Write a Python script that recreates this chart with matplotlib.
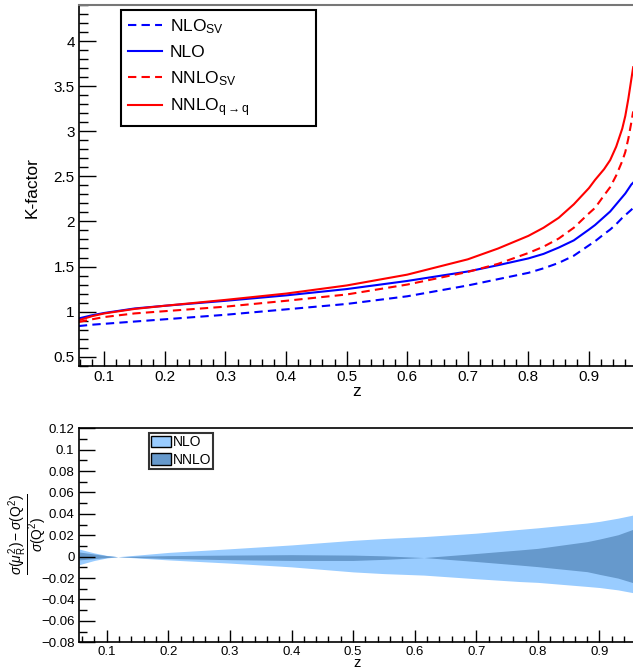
import matplotlib
matplotlib.use("Agg")
import matplotlib.pyplot as plt
from matplotlib.ticker import MultipleLocator, FuncFormatter
from matplotlib.patches import Patch

plt.rcParams['font.family'] = ['Liberation Sans', 'DejaVu Sans']
plt.rcParams['mathtext.fontset'] = 'custom'
plt.rcParams['mathtext.rm'] = 'Liberation Sans'
plt.rcParams['mathtext.it'] = 'Liberation Sans:italic'
plt.rcParams['mathtext.sf'] = 'Liberation Sans'

# ---------------- data: top panel (K-factors) ----------------
z_k = [0.058, 0.08, 0.1, 0.15, 0.2, 0.3, 0.4, 0.5, 0.6, 0.7, 0.75, 0.8, 0.825,
       0.85, 0.875, 0.9, 0.91, 0.925, 0.935, 0.945, 0.955, 0.96, 0.965, 0.97, 0.973]
k_nlo_sv = [0.84, 0.855, 0.865, 0.89, 0.915, 0.965, 1.025, 1.085, 1.17, 1.29, 1.36,
            1.43, 1.48, 1.54, 1.62, 1.735, 1.78, 1.86, 1.91, 1.97, 2.04, 2.07,
            2.10, 2.13, 2.15]
k_nlo = [0.925, 0.96, 0.985, 1.035, 1.065, 1.12, 1.18, 1.25, 1.34, 1.445, 1.515,
         1.59, 1.64, 1.71, 1.79, 1.91, 1.96, 2.05, 2.11, 2.19, 2.27, 2.31, 2.36,
         2.41, 2.43]
k_nnlo_sv = [0.885, 0.915, 0.94, 0.98, 1.005, 1.055, 1.12, 1.19, 1.30, 1.44, 1.53,
             1.65, 1.72, 1.81, 1.93, 2.09, 2.15, 2.29, 2.38, 2.51, 2.67, 2.77,
             2.92, 3.10, 3.22]
k_nnlo = [0.905, 0.95, 0.98, 1.03, 1.065, 1.13, 1.20, 1.29, 1.41, 1.58, 1.70,
          1.84, 1.93, 2.04, 2.19, 2.37, 2.46, 2.58, 2.68, 2.83, 3.03, 3.17, 3.36,
          3.58, 3.71]

# ---------------- data: bottom panel (scale variation) ----------------
z_band = [0.055, 0.08, 0.1, 0.118, 0.15, 0.2, 0.3, 0.4, 0.5, 0.55, 0.615, 0.7,
          0.77, 0.8, 0.88, 0.9, 0.93, 0.955]
nlo_up = [0.0072, 0.0035, 0.0012, 0.0, 0.0015, 0.004, 0.0074, 0.011, 0.0153,
          0.017, 0.0188, 0.022, 0.0255, 0.027, 0.0315, 0.033, 0.036, 0.039]
nlo_lo = [-0.0075, -0.0035, -0.0012, 0.0, -0.0012, -0.003, -0.006, -0.0095,
          -0.0142, -0.0158, -0.0172, -0.0206, -0.0232, -0.024, -0.0278, -0.0288,
          -0.031, -0.0337]
nnlo_up = [0.0044, 0.0025, 0.001, 0.0, 0.0005, 0.001, 0.0015, 0.0019, 0.0015,
           0.0008, -0.0008, 0.003, 0.0063, 0.0078, 0.0141, 0.0165, 0.0205, 0.0257]
nnlo_lo = [-0.003, -0.0018, -0.0008, 0.0, -0.0008, -0.0017, -0.0028, -0.0035,
           -0.0035, -0.0025, -0.0008, -0.0045, -0.0078, -0.0093, -0.014, -0.0165,
           -0.020, -0.0244]

W, H = 633, 669
fig = plt.figure(figsize=(W / 100, H / 100), dpi=100)

def ax_rect(x0, y0, x1, y1):
    return [x0 / W, 1 - y1 / H, (x1 - x0) / W, (y1 - y0) / H]

fmt_g = FuncFormatter(lambda v, p: ('0' if abs(v) < 1e-9 else ('%g' % round(v, 6)).replace('-', '\u2212')))

# ---------------- top panel ----------------
ax1 = fig.add_axes(ax_rect(79, 5, 633, 366))
ax1.plot(z_k, k_nlo_sv, color='#0000ff', lw=1.5, dashes=(4, 2.5), label=r'NLO$_{\mathrm{SV}}$')
ax1.plot(z_k, k_nlo, color='#0000ff', lw=1.5, label='NLO')
ax1.plot(z_k, k_nnlo_sv, color='#ff0000', lw=1.5, dashes=(4, 2.5), label=r'NNLO$_{\mathrm{SV}}$')
ax1.plot(z_k, k_nnlo, color='#ff0000', lw=1.5, label=r'NNLO$_{\mathrm{q}\rightarrow\mathrm{q}}$')
ax1.set_xlim(0.0582, 0.9727)
ax1.set_ylim(0.397, 4.40)
ax1.xaxis.set_major_locator(MultipleLocator(0.1))
ax1.xaxis.set_minor_locator(MultipleLocator(0.02))
ax1.yaxis.set_major_locator(MultipleLocator(0.5))
ax1.yaxis.set_minor_locator(MultipleLocator(0.1))
ax1.xaxis.set_major_formatter(fmt_g)
ax1.yaxis.set_major_formatter(fmt_g)
ax1.tick_params(axis='x', which='major', direction='in', length=10.8, width=1.0, labelsize=11, pad=3)
ax1.tick_params(axis='x', which='minor', direction='in', length=5, width=1.0)
ax1.tick_params(axis='y', which='major', direction='in', length=12.2, width=1.0, labelsize=11, pad=3)
ax1.tick_params(axis='y', which='minor', direction='in', length=6.5, width=1.0)
ax1.tick_params(top=False, right=False, which='both')
ax1.spines['right'].set_visible(False)
ax1.spines['top'].set_color('#777777')
ax1.spines['top'].set_linewidth(1.5)
ax1.spines['left'].set_linewidth(1.2)
ax1.spines['bottom'].set_linewidth(1.2)
fig.text(31.7 / W, 1 - 188 / H, 'K-factor', rotation=90, ha='center', va='center', fontsize=12.5)
fig.text(356.7 / W, 1 - 392 / H, 'z', ha='center', va='center', fontsize=12.5)

leg1 = ax1.legend(loc='upper left',
                  bbox_to_anchor=((121 - 79) / 554, (366 - 118) / 361, 195 / 554, 108 / 361),
                  mode='expand',
                  fontsize=12.5, frameon=True, fancybox=False, edgecolor='black',
                  handlelength=1.95, handletextpad=0.45, labelspacing=0.52,
                  borderpad=0.4, borderaxespad=0.0)
leg1.get_frame().set_linewidth(1.5)
leg1.get_frame().set_facecolor('white')
leg1.get_frame().set_alpha(1.0)

# ---------------- bottom panel ----------------
ax2 = fig.add_axes(ax_rect(79.3, 428.3, 633, 642.3))
ax2.fill_between(z_band, nlo_lo, nlo_up, color='#99ccff', lw=0)
ax2.fill_between(z_band, nnlo_lo, nnlo_up, color='#6699cc', lw=0)
ax2.set_xlim(0.0555, 0.9544)
ax2.set_ylim(-0.08, 0.12)
ax2.xaxis.set_major_locator(MultipleLocator(0.1))
ax2.xaxis.set_minor_locator(MultipleLocator(0.02))
ax2.yaxis.set_major_locator(MultipleLocator(0.02))
ax2.yaxis.set_minor_locator(MultipleLocator(0.01))
ax2.xaxis.set_major_formatter(fmt_g)
ax2.yaxis.set_major_formatter(fmt_g)
ax2.tick_params(axis='x', which='major', direction='in', length=8.6, width=1.0, labelsize=9.5, pad=2.5)
ax2.tick_params(axis='x', which='minor', direction='in', length=4.3, width=1.0)
ax2.tick_params(axis='y', which='major', direction='in', length=11.5, width=1.0, labelsize=9.5, pad=3.5)
ax2.tick_params(axis='y', which='minor', direction='in', length=5.8, width=1.0)
ax2.tick_params(top=False, right=False, which='both')
ax2.spines['right'].set_visible(False)
ax2.spines['top'].set_linewidth(1.2)
ax2.spines['left'].set_linewidth(1.2)
ax2.spines['bottom'].set_linewidth(1.2)

fig.text(28 / W, 1 - 534 / H,
         r'$\dfrac{\sigma(\mu_{\mathrm{R}}^{2})-\sigma(\mathrm{Q}^{2})}{\sigma(\mathrm{Q}^{2})}$',
         rotation=90, ha='center', va='center', fontsize=10)
fig.text(356.7 / W, 1 - 663 / H, 'z', ha='center', va='center', fontsize=10.5)

handles2 = [Patch(facecolor='#99ccff', edgecolor='black', lw=1.0, label='NLO'),
            Patch(facecolor='#6699cc', edgecolor='black', lw=1.0, label='NNLO')]
leg2 = ax2.legend(handles=handles2, loc='upper left',
                  bbox_to_anchor=((149 - 79.3) / 553.7, (642.3 - 433) / 214),
                  fontsize=10, frameon=True, fancybox=False, edgecolor='black',
                  handlelength=1.4, handleheight=0.9, handletextpad=0.15,
                  labelspacing=0.25, borderpad=0.15, borderaxespad=0.0)
leg2.get_frame().set_linewidth(1.5)

fig.savefig('out.png', dpi=100)
